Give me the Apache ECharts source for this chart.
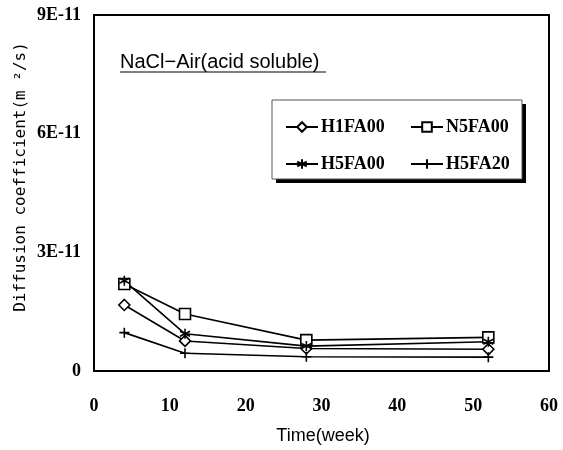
<!DOCTYPE html>
<html><head><meta charset="utf-8">
<script src="https://cdn.jsdelivr.net/npm/echarts@6/dist/echarts.min.js"></script>
<style>html,body{margin:0;padding:0;background:#fff}#c{width:563px;height:450px}</style>
</head><body><div id="c"></div>
<script>
const weeks = [4, 12, 28, 52];
const h1fa00 = [1.67e-11, 0.76e-11, 0.57e-11, 0.55e-11];
const n5fa00 = [2.2e-11, 1.44e-11, 0.78e-11, 0.85e-11];
const h5fa00 = [2.28e-11, 0.94e-11, 0.63e-11, 0.74e-11];
const h5fa20 = [0.97e-11, 0.45e-11, 0.36e-11, 0.35e-11];
const yTickLabels = ['0', '3E-11', '6E-11', '9E-11'];
const xTickLabels = ['0', '10', '20', '30', '40', '50', '60'];
const titleText = 'NaCl\u2212Air(acid soluble)';
const xName = 'Time(week)';
const yName = 'Diffusion coefficient(m \u00B2/s)';

const pair = arr => weeks.map((w, i) => [w, arr[i]]);
const plusPath = 'path://M0,5L10,5M5,0L5,10';
const starPath = 'path://M5,0L5,10M0.7,2.5L9.3,7.5M0.7,7.5L9.3,2.5';
function mk(name, data, symbol, size) {
  return {
    name, type: 'line', data: pair(data), symbol, symbolSize: size,
    lineStyle: { color: '#000', width: 1.6 },
    itemStyle: { color: '#fff', borderColor: '#000', borderWidth: 1.6 },
    emphasis: { disabled: true }, animation: false, z: 3
  };
}
const serif = { fontFamily: 'Liberation Serif', fontWeight: 'bold', fontSize: 18, color: '#000' };
const chart = echarts.init(document.getElementById('c'), null, { renderer: 'canvas' });
const legendCommon = {
  orient: 'vertical', itemWidth: 32, itemHeight: 12, itemGap: 19, selectedMode: false,
  textStyle: { fontFamily: 'Liberation Serif', fontWeight: 'bold', fontSize: 18, color: '#000', padding: [0, 0, 0, -2] }
};
chart.setOption({
  animation: false,
  backgroundColor: '#fff',
  grid: { left: 94, right: 14, top: 15, bottom: 79, show: true, borderColor: '#000', borderWidth: 2, backgroundColor: 'transparent' },
  xAxis: {
    type: 'value', min: 0, max: 60, interval: 10,
    axisLine: { show: true, lineStyle: { color: '#000', width: 2 } },
    axisTick: { show: false }, splitLine: { show: false },
    axisLabel: { ...serif, margin: 26, formatter: (v) => xTickLabels[Math.round(v / 10)] }
  },
  yAxis: {
    type: 'value', min: 0, max: 9e-11, interval: 3e-11,
    axisLine: { show: true, lineStyle: { color: '#000', width: 2 } },
    axisTick: { show: false }, splitLine: { show: false },
    axisLabel: { ...serif, margin: 13, formatter: (v) => yTickLabels[Math.round(v / 3e-11)] }
  },
  legend: [
    { ...legendCommon, left: 280, top: 113, data: ['H1FA00', 'H5FA00'] },
    { ...legendCommon, left: 405, top: 113, data: ['N5FA00', 'H5FA20'] }
  ],
  series: [
    mk('H1FA00', h1fa00, 'diamond', 11),
    mk('N5FA00', n5fa00, 'rect', 11),
    mk('H5FA00', h5fa00, starPath, 10),
    mk('H5FA20', h5fa20, plusPath, 10)
  ],
  graphic: [
    { type: 'rect', shape: { x: 276, y: 104, width: 250, height: 79 }, style: { fill: '#000' }, z: 1 },
    { type: 'rect', shape: { x: 272, y: 100, width: 250, height: 79 }, style: { fill: '#fff', stroke: '#555', lineWidth: 1 }, z: 2 },
    { type: 'text', x: 120, y: 62, style: { text: titleText, font: '20px "Liberation Sans", sans-serif', fill: '#000', textVerticalAlign: 'middle' }, z: 5 },
    { type: 'line', shape: { x1: 120, y1: 72, x2: 326, y2: 72 }, style: { stroke: '#000', lineWidth: 1.2 }, z: 5 },
    { type: 'text', x: 323, y: 436, style: { text: xName, font: '18px "Liberation Sans", sans-serif', fill: '#000', textAlign: 'center', textVerticalAlign: 'middle' }, z: 5 },
    { type: 'text', x: 21, y: 177, rotation: Math.PI / 2, style: { text: yName, font: '16px "DejaVu Sans Mono", monospace', fill: '#000', textAlign: 'center', textVerticalAlign: 'middle' }, z: 5 }
  ]
});
</script></body></html>
